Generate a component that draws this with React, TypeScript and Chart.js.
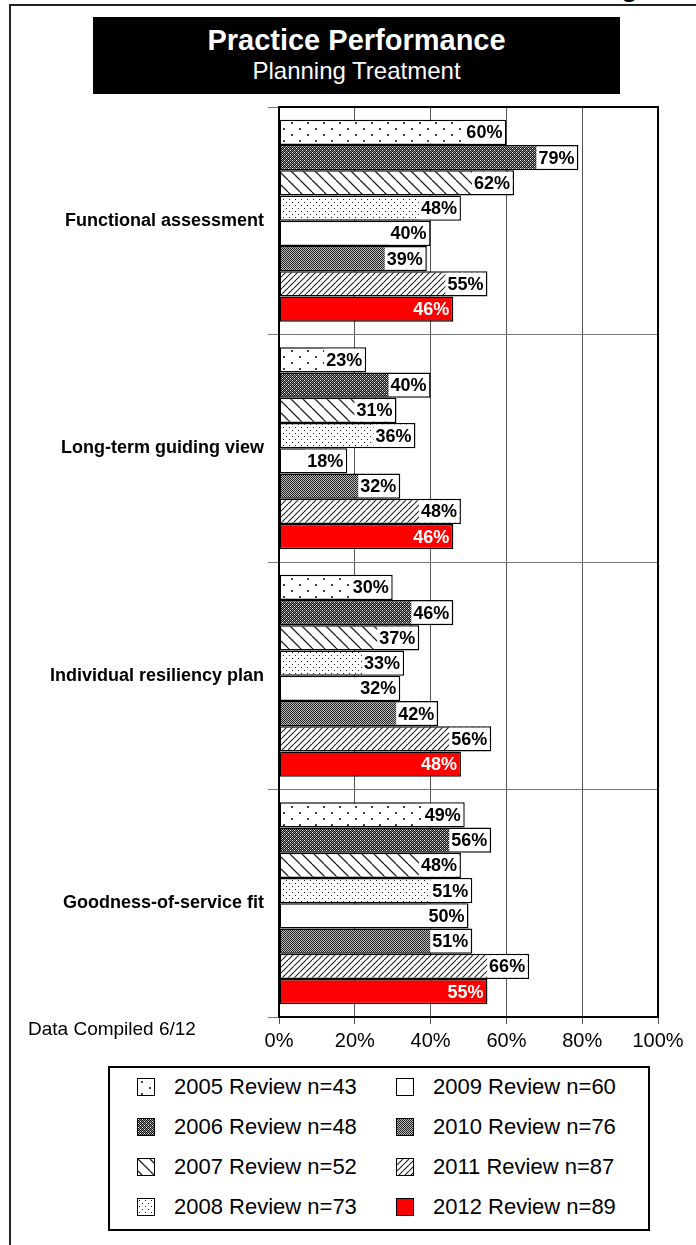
import React, { useEffect, useRef, useMemo } from 'react';
import { Chart, registerables } from 'chart.js';
Chart.register(...registerables);

const FONT = '"Liberation Sans", Arial, Helvetica, sans-serif';

// ---- data ----
const categories = [
  'Functional assessment',
  'Long-term guiding view',
  'Individual resiliency plan',
  'Goodness-of-service fit',
];
const seriesLabels = [
  '2005 Review n=43',
  '2006 Review n=48',
  '2007 Review n=52',
  '2008 Review n=73',
  '2009 Review n=60',
  '2010 Review n=76',
  '2011 Review n=87',
  '2012 Review n=89',
];
const v2005 = [60, 23, 30, 49];
const v2006 = [79, 40, 46, 56];
const v2007 = [62, 31, 37, 48];
const v2008 = [48, 36, 33, 51];
const v2009 = [40, 18, 32, 50];
const v2010 = [39, 32, 42, 51];
const v2011 = [55, 48, 56, 66];
const v2012 = [46, 46, 48, 55];
const seriesValues = [v2005, v2006, v2007, v2008, v2009, v2010, v2011, v2012];
const xTicks = [0, 20, 40, 60, 80, 100];

// ---- styles ----
const seriesFills = ['dotsSparse', 'crossDark', 'backDiag', 'dotsDense', 'white', 'checker', 'fwdDiag', 'red'];

function makeTile(kind: string): HTMLCanvasElement {
  const c = document.createElement('canvas');
  let ctx = c.getContext('2d') as CanvasRenderingContext2D;
  const pix = (rows: string[], map: Record<string, string>) => {
    c.width = rows[0].length;
    c.height = rows.length;
    ctx = c.getContext('2d') as CanvasRenderingContext2D;
    rows.forEach((r, y) => r.split('').forEach((ch, x) => {
      ctx.fillStyle = map[ch];
      ctx.fillRect(x, y, 1, 1);
    }));
  };
  switch (kind) {
    case 'dotsSparse': {
      c.width = 16; c.height = 12;
      ctx.fillStyle = '#fff'; ctx.fillRect(0, 0, 16, 12);
      ctx.fillStyle = '#444';
      ctx.fillRect(3, 2, 2, 2);
      ctx.fillRect(11, 8, 2, 2);
      break;
    }
    case 'crossDark':
      pix(['WDGD', 'DGDG', 'GDWD', 'DGDG'], { W: '#fff', D: '#111', G: '#888' });
      break;
    case 'backDiag': {
      c.width = 12; c.height = 12;
      ctx.fillStyle = '#fff'; ctx.fillRect(0, 0, 12, 12);
      ctx.strokeStyle = '#222'; ctx.lineWidth = 1.3;
      ctx.beginPath();
      [-12, 0, 12].forEach(o => { ctx.moveTo(o, 0); ctx.lineTo(o + 12, 12); });
      ctx.stroke();
      break;
    }
    case 'dotsDense':
      pix(['WWWWWW', 'WDWWWW', 'WWWWWW', 'WWWWWW', 'WWWWDW', 'WWWWWW'], { W: '#fff', D: '#222' });
      break;
    case 'checker':
      pix(['DL', 'LD'], { D: '#222', L: '#bbb' });
      break;
    case 'fwdDiag': {
      c.width = 6; c.height = 6;
      ctx.fillStyle = '#fff'; ctx.fillRect(0, 0, 6, 6);
      ctx.strokeStyle = '#222'; ctx.lineWidth = 1.1;
      ctx.beginPath();
      [-6, 0, 6].forEach(o => { ctx.moveTo(o, 6); ctx.lineTo(o + 6, 0); });
      ctx.stroke();
      break;
    }
    default: {
      c.width = 2; c.height = 2;
      ctx.fillStyle = '#fff'; ctx.fillRect(0, 0, 2, 2);
    }
  }
  return c;
}

const framePlugin = {
  id: 'frame',
  afterDraw(chart: any) {
    const { ctx, chartArea } = chart;
    ctx.save();
    ctx.strokeStyle = '#000';
    ctx.lineWidth = 2;
    ctx.strokeRect(chartArea.left, chartArea.top, chartArea.right - chartArea.left, chartArea.bottom - chartArea.top);
    ctx.restore();
  },
};

const valueLabelPlugin = {
  id: 'valueLabels',
  afterDatasetsDraw(chart: any) {
    const ctx = chart.ctx as CanvasRenderingContext2D;
    ctx.save();
    ctx.font = `bold 18px ${FONT}`;
    ctx.textAlign = 'right';
    ctx.textBaseline = 'middle';
    chart.data.datasets.forEach((ds: any, di: number) => {
      const meta = chart.getDatasetMeta(di);
      meta.data.forEach((el: any, i: number) => {
        const p = el.getProps(['x', 'y', 'height'], true);
        const text = ds.data[i] + '%';
        const w = ctx.measureText(text).width;
        const right = p.x - 4;
        const isRed = seriesFills[di] === 'red';
        if (!isRed) {
          ctx.fillStyle = '#fff';
          const top = p.y - p.height / 2 + 1.5;
          const left = right - w - 2;
          ctx.fillRect(left, top, p.x - 1.5 - left, p.height - 3);
        }
        ctx.fillStyle = isRed ? '#fff' : '#000';
        ctx.fillText(text, right, p.y + 1);
      });
    });
    ctx.restore();
  },
};

const legendCols = [137, 396];
const legendRows = [1087, 1127, 1167, 1207];

export default function App() {
  const canvasRef = useRef<HTMLCanvasElement>(null);
  const tiles = useMemo(() => seriesFills.map(k => (k === 'red' ? null : makeTile(k))), []);
  const urls = useMemo(() => tiles.map(t => (t ? t.toDataURL() : '')), [tiles]);

  useEffect(() => {
    const canvas = canvasRef.current as HTMLCanvasElement;
    const ctx = canvas.getContext('2d') as CanvasRenderingContext2D;
    const bgs = tiles.map(t => (t ? (ctx.createPattern(t, 'repeat') as CanvasPattern) : '#ff0000'));
    const chart = new Chart(canvas, {
      type: 'bar',
      data: {
        labels: categories,
        datasets: seriesValues.map((d, i) => ({
          label: seriesLabels[i],
          data: d,
          backgroundColor: bgs[i] as any,
          borderColor: '#000',
          borderWidth: 1.5,
          borderSkipped: false,
          categoryPercentage: 0.888,
          barPercentage: 1,
        })),
      },
      options: {
        indexAxis: 'y',
        responsive: false,
        animation: false,
        devicePixelRatio: 1,
        layout: { padding: { top: 107, right: 38, left: 0, bottom: 0 } },
        plugins: { legend: { display: false }, tooltip: { enabled: false }, title: { display: false } },
        scales: {
          x: {
            min: 0,
            max: 100,
            afterBuildTicks: (s: any) => { s.ticks = xTicks.map(v => ({ value: v })); },
            afterFit: (s: any) => { s.height = 43; },
            ticks: {
              callback: (v: any) => v + '%',
              font: { family: FONT, size: 20 },
              color: '#000',
              padding: 5,
              maxRotation: 0,
            },
            grid: { color: '#555', lineWidth: 1, tickLength: 7, drawTicks: true },
            border: { color: '#000', width: 2 },
          },
          y: {
            afterFit: (s: any) => { s.width = 279; },
            ticks: { font: { family: FONT, size: 18, weight: 'bold' }, color: '#000', padding: 4 },
            grid: { offset: true, color: '#777', lineWidth: 1, tickLength: 11 },
            border: { color: '#000', width: 2 },
          },
        },
      } as any,
      plugins: [framePlugin, valueLabelPlugin],
    });
    return () => chart.destroy();
  }, [tiles]);

  return (
    <div style={{ position: 'absolute', left: 0, top: 0, width: 696, height: 1245, background: '#fff', overflow: 'hidden', fontFamily: FONT }}>
      {/* outer frame */}
      <div style={{ position: 'absolute', left: 9, top: 4, width: 687, height: 2, background: '#222' }} />
      <div style={{ position: 'absolute', left: 9, top: 4, width: 2, height: 1241, background: '#222' }} />
      {/* clipped letter above the frame */}
      <div style={{ position: 'absolute', left: 619, top: 0, width: 24, height: 4, overflow: 'hidden' }}>
        <span style={{ position: 'absolute', left: 2, top: -27, fontSize: 28, lineHeight: '28px', fontWeight: 'bold', color: '#000' }}>g</span>
      </div>
      {/* title */}
      <div style={{ position: 'absolute', left: 93, top: 17, width: 527, height: 77, background: '#000', color: '#fff', textAlign: 'center' }}>
        <div style={{ fontWeight: 'bold', fontSize: 29, lineHeight: '33px', marginTop: 7 }}>Practice Performance</div>
        <div style={{ fontSize: 24, lineHeight: '28px' }}>Planning Treatment</div>
      </div>
      <canvas ref={canvasRef} width={696} height={1060} style={{ position: 'absolute', left: 0, top: 0, width: 696, height: 1060 }} />
      <div style={{ position: 'absolute', left: 28, top: 1017, fontSize: 19, lineHeight: '24px', color: '#000' }}>Data Compiled 6/12</div>
      {/* legend */}
      <div style={{ position: 'absolute', left: 108, top: 1066, width: 542, height: 165, border: '2px solid #000', boxSizing: 'border-box' }} />
      {seriesLabels.map((lab, i) => {
        const cx = legendCols[Math.floor(i / 4)];
        const cy = legendRows[i % 4];
        const red = seriesFills[i] === 'red';
        return (
          <React.Fragment key={lab}>
            <div
              style={{
                position: 'absolute', left: cx, top: cy - 9, width: 18, height: 18,
                border: '1.5px solid #000', boxSizing: 'border-box',
                background: red ? '#ff0000' : `url(${urls[i]})`,
              }}
            />
            <div style={{ position: 'absolute', left: cx + 37, top: cy - 13, fontSize: 22, lineHeight: '26px', color: '#000', whiteSpace: 'nowrap' }}>{lab}</div>
          </React.Fragment>
        );
      })}
    </div>
  );
}
